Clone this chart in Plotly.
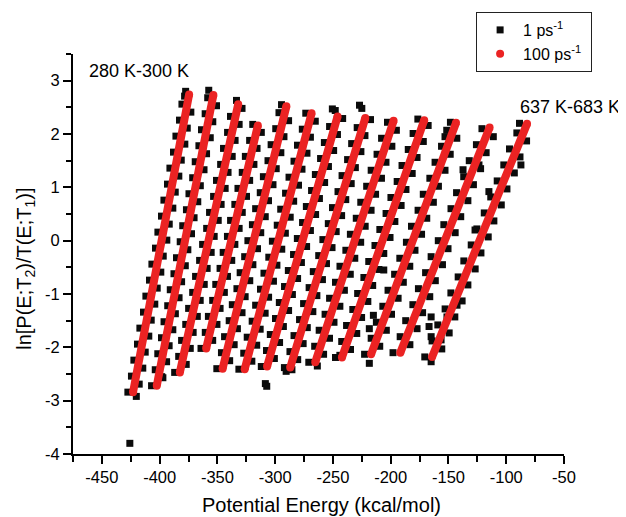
import plotly.graph_objects as go

# ---------------- data ----------------
# 1 ps^-1 series (black squares): potential energy (kcal/mol), one line per temperature pair
ps1_energy = [
    # 280-300 K
    -427.5, -417.7, -424.4, -414.6, -422.3, -412.5, -419.2, -409.4, -417.1, -407.3, -414.0, -404.2,
    -411.9, -402.1, -408.8, -399.0, -406.7, -396.9, -403.6, -393.8, -401.5, -391.7, -398.4, -388.6,
    -396.3, -386.5, -393.2, -383.4, -391.1, -381.3, -388.0, -378.2, -385.9, -376.1, -382.8, -373.0,
    -380.7, -378.4, -377.5, -420.2, -425.8,
    # pair 2
    -407.0, -397.2, -403.8, -394.0, -401.6, -391.8, -398.4, -388.6, -396.2, -386.4, -393.0, -383.2,
    -390.8, -381.0, -387.6, -377.8, -385.4, -375.6, -382.2, -372.4, -380.0, -370.2, -376.8, -367.0,
    -374.6, -364.8, -371.4, -361.6, -369.2, -359.4, -366.0, -356.2, -363.8, -354.0, -360.6, -350.8,
    -358.4, -357.5, -398.2,
    # pair 3
    -387.0, -377.0, -383.5, -373.5, -381.0, -371.0, -377.4, -367.4, -374.9, -364.9, -371.4, -361.4,
    -368.9, -358.9, -365.4, -355.4, -362.8, -352.8, -359.3, -349.3, -356.8, -346.8, -353.3, -343.3,
    -350.8, -340.8, -347.2, -337.2, -344.7, -334.7, -341.2, -331.2, -338.7, -328.7, -333.5,
    # pair 4
    -364.2, -354.1, -360.5, -350.4, -357.8, -347.7, -354.1, -344.0, -351.4, -341.3, -347.7, -337.6,
    -345.0, -334.9, -341.3, -331.2, -338.6, -328.5, -334.9, -324.8, -332.2, -322.1, -328.5, -318.4,
    -325.8, -315.7, -322.1, -312.0, -319.4,
    # pair 5
    -350.5, -339.4, -346.5, -335.5, -343.8, -332.7, -339.8, -328.7, -337.1, -326.0, -333.1, -322.0,
    -330.3, -319.3, -326.4, -315.3, -323.6, -312.5, -319.7, -308.6, -316.9, -305.8, -312.9, -301.9,
    -310.2, -299.1, -306.2, -295.1, -303.5, -292.4, -299.5, -288.4, -296.7, -294.5,
    # pair 6
    -331.4, -320.2, -327.2, -316.0, -324.2, -313.0, -319.9, -308.7, -316.9, -305.7, -312.7, -301.5,
    -309.7, -298.5, -305.5, -294.3, -302.4, -291.2, -298.2, -287.0, -295.2, -284.0, -291.0, -279.8,
    -288.0, -276.8, -283.7, -272.5, -280.7, -269.5, -276.5, -265.3, -273.5,
    # pair 7
    -312.0, -300.7, -307.5, -296.2, -304.2, -292.9, -299.7, -288.4, -296.4, -285.1, -291.9, -280.6,
    -288.6, -277.3, -284.1, -272.8, -280.8, -269.5, -276.3, -265.0, -273.0, -261.7, -268.5, -257.2,
    -265.2, -253.9, -260.7, -249.4, -257.4, -246.1, -252.9, -241.6, -250.5, -248.0, -308.5, -307.3,
    # pair 8
    -292.0, -280.5, -287.2, -275.8, -283.7, -272.2, -278.9, -267.4, -275.4, -263.9, -270.6, -259.1,
    -267.0, -255.6, -262.3, -250.8, -258.7, -247.2, -254.0, -242.5, -250.4, -238.9, -245.6, -234.2,
    -242.1, -230.6, -237.3, -225.8, -233.8, -222.3, -229.0, -217.5, -227.0, -225.0, -290.5, -285.5,
    # pair 9
    -270.9, -258.1, -265.8, -253.0, -261.9, -249.1, -256.8, -244.0, -252.9, -240.1, -247.8, -235.0,
    -243.9, -231.1, -238.8, -226.0, -234.9, -222.1, -229.8, -217.0, -225.9, -213.1, -220.8, -208.0,
    -216.9, -204.1, -211.8, -199.0, -207.9, -195.1, -202.8, -263.5,
    # pair 10
    -247.8, -234.8, -242.4, -229.4, -238.2, -225.2, -232.8, -219.8, -228.6, -215.6, -223.2, -210.2,
    -219.0, -206.0, -213.6, -200.6, -209.4, -196.4, -204.0, -191.0, -199.8, -186.8, -194.4, -181.4,
    -190.2, -177.2, -184.8, -171.8, -180.6, -167.6, -176.5, -244.0,
    # pair 11
    -222.6, -209.5, -216.9, -203.8, -212.4, -199.3, -206.8, -193.6, -202.3, -189.1, -196.6, -183.5,
    -192.1, -179.0, -186.4, -173.3, -182.0, -168.8, -176.3, -163.1, -171.8, -158.7, -166.1, -153.0,
    -161.6, -148.5, -156.0, -142.8, -151.5, -148.3, -218.5, -215.0, -218.5, -206.0, -153.0,
    # pair 12
    -198.0, -183.4, -191.8, -177.2, -187.0, -172.4, -180.8, -166.2, -176.0, -161.4, -169.8, -155.2,
    -165.0, -150.4, -158.8, -144.2, -154.0, -139.4, -147.8, -133.2, -143.0, -128.4, -136.8, -122.2,
    -132.0, -117.4, -125.8, -111.2, -121.0, -137.4, -123.6,
    # 637-683 K
    -170.5, -155.8, -164.2, -149.4, -159.2, -144.5, -152.9, -138.2, -147.9, -133.2, -141.6, -126.9,
    -136.7, -121.9, -130.3, -115.6, -125.4, -110.7, -119.0, -104.3, -113.4, -99.4, -107.8, -93.0,
    -102.1, -88.1, -97.2, -82.4, -90.8, -88.5, -165.0, -87.3, -115.0, -127.0,
    -165.0, -166.8, -165.0, -156.4, -151.3, -142.6,
]
ps1_lnratio = [
    # 280-300 K
    -2.84, -2.69, -2.54, -2.39, -2.24, -2.09, -1.94, -1.79, -1.64, -1.49, -1.34, -1.19,
    -1.04, -0.89, -0.74, -0.59, -0.44, -0.29, -0.14, 0.01, 0.16, 0.31, 0.46, 0.61,
    0.76, 0.91, 1.06, 1.21, 1.36, 1.51, 1.66, 1.81, 1.96, 2.11, 2.26, 2.41,
    2.56, 2.71, 2.80, -2.92, -3.80,
    # pair 2
    -2.72, -2.57, -2.42, -2.27, -2.12, -1.97, -1.82, -1.67, -1.52, -1.37, -1.22, -1.07,
    -0.92, -0.77, -0.62, -0.47, -0.32, -0.17, -0.02, 0.13, 0.28, 0.43, 0.58, 0.73,
    0.88, 1.03, 1.18, 1.33, 1.48, 1.63, 1.78, 1.93, 2.08, 2.23, 2.38, 2.53,
    2.68, 2.82, -2.55,
    # pair 3
    -2.47, -2.32, -2.17, -2.02, -1.87, -1.72, -1.57, -1.42, -1.27, -1.12, -0.97, -0.82,
    -0.67, -0.52, -0.37, -0.22, -0.07, 0.08, 0.23, 0.38, 0.53, 0.68, 0.83, 0.98,
    1.13, 1.28, 1.43, 1.58, 1.73, 1.88, 2.03, 2.18, 2.33, 2.48, 2.63,
    # pair 4
    -2.02, -1.87, -1.72, -1.57, -1.42, -1.27, -1.12, -0.97, -0.82, -0.67, -0.52, -0.37,
    -0.22, -0.07, 0.08, 0.23, 0.38, 0.53, 0.68, 0.83, 0.98, 1.13, 1.28, 1.43,
    1.58, 1.73, 1.88, 2.03, 2.18,
    # pair 5
    -2.40, -2.25, -2.10, -1.95, -1.80, -1.65, -1.50, -1.35, -1.20, -1.05, -0.90, -0.75,
    -0.60, -0.45, -0.30, -0.15, 0.00, 0.15, 0.30, 0.45, 0.60, 0.75, 0.90, 1.05,
    1.20, 1.35, 1.50, 1.65, 1.80, 1.95, 2.10, 2.25, 2.40, 2.55,
    # pair 6
    -2.41, -2.26, -2.11, -1.96, -1.81, -1.66, -1.51, -1.36, -1.21, -1.06, -0.91, -0.76,
    -0.61, -0.46, -0.31, -0.16, -0.01, 0.14, 0.29, 0.44, 0.59, 0.74, 0.89, 1.04,
    1.19, 1.34, 1.49, 1.64, 1.79, 1.94, 2.09, 2.24, 2.39,
    # pair 7
    -2.36, -2.21, -2.06, -1.91, -1.76, -1.61, -1.46, -1.31, -1.16, -1.01, -0.86, -0.71,
    -0.56, -0.41, -0.26, -0.11, 0.04, 0.19, 0.34, 0.49, 0.64, 0.79, 0.94, 1.09,
    1.24, 1.39, 1.54, 1.69, 1.84, 1.99, 2.14, 2.29, 2.47, 2.44, -2.68, -2.73,
    # pair 8
    -2.38, -2.23, -2.08, -1.93, -1.78, -1.63, -1.48, -1.33, -1.18, -1.03, -0.88, -0.73,
    -0.58, -0.43, -0.28, -0.13, 0.02, 0.17, 0.32, 0.47, 0.62, 0.77, 0.92, 1.07,
    1.22, 1.37, 1.52, 1.67, 1.82, 1.97, 2.12, 2.27, 2.54, 2.48, -2.45, -2.42,
    # pair 9
    -2.28, -2.13, -1.98, -1.83, -1.68, -1.53, -1.38, -1.23, -1.08, -0.93, -0.78, -0.63,
    -0.48, -0.33, -0.18, -0.03, 0.12, 0.27, 0.42, 0.57, 0.72, 0.87, 1.02, 1.17,
    1.32, 1.47, 1.62, 1.77, 1.92, 2.07, 2.22, -2.35,
    # pair 10
    -2.19, -2.04, -1.89, -1.74, -1.59, -1.44, -1.29, -1.14, -0.99, -0.84, -0.69, -0.54,
    -0.39, -0.24, -0.09, 0.06, 0.21, 0.36, 0.51, 0.66, 0.81, 0.96, 1.11, 1.26,
    1.41, 1.56, 1.71, 1.86, 2.01, 2.16, 2.28, -2.15,
    # pair 11
    -2.13, -1.98, -1.83, -1.68, -1.53, -1.38, -1.23, -1.08, -0.93, -0.78, -0.63, -0.48,
    -0.33, -0.18, -0.03, 0.12, 0.27, 0.42, 0.57, 0.72, 0.87, 1.02, 1.17, 1.32,
    1.47, 1.62, 1.77, 1.92, 2.07, 2.22, -2.30, -1.40, -1.65, -0.55, 1.95,
    # pair 12
    -2.10, -1.95, -1.80, -1.65, -1.50, -1.35, -1.20, -1.05, -0.90, -0.75, -0.60, -0.45,
    -0.30, -0.15, 0.00, 0.15, 0.30, 0.45, 0.60, 0.75, 0.90, 1.05, 1.20, 1.35,
    1.50, 1.65, 1.80, 1.95, 2.10, 1.33, 1.42,
    # 637-683 K
    -2.18, -2.03, -1.88, -1.73, -1.58, -1.43, -1.28, -1.13, -0.98, -0.83, -0.68, -0.53,
    -0.38, -0.23, -0.08, 0.07, 0.22, 0.37, 0.52, 0.67, 0.82, 0.97, 1.12, 1.27,
    1.42, 1.57, 1.72, 1.87, 2.02, 2.20, -2.27, 1.42, 0.92, 0.20,
    -1.43, -1.61, -1.80, -1.86, -1.43, -1.21,
]

# 100 ps^-1 series (red circles): each temperature pair forms a dense straight
# chain of circles, given here by its two ends
band_energy_low = [-423.0, -402.5, -382.5, -359.7, -345.5, -326.4, -307.0,
                   -287.0, -265.3, -242.2, -217.0, -191.7, -164.2]
band_ln_low = [-2.84, -2.72, -2.47, -2.02, -2.40, -2.41, -2.36,
               -2.38, -2.28, -2.19, -2.13, -2.10, -2.18]
band_energy_high = [-374.5, -353.5, -332.0, -315.0, -290.3, -268.5, -246.0,
                    -222.0, -197.5, -171.0, -143.5, -114.4, -82.0]
band_ln_high = [2.74, 2.73, 2.56, 2.16, 2.52, 2.39, 2.33,
                2.30, 2.25, 2.26, 2.21, 2.12, 2.19]

series_names = ["1 ps<sup>-1</sup>&nbsp;", "100 ps<sup>-1</sup>&nbsp;"]
x_tick_vals = [-450, -400, -350, -300, -250, -200, -150, -100, -50]
x_tick_text = ["-450", "-400", "-350", "-300", "-250", "-200", "-150", "-100", "-50"]
y_tick_vals = [-4, -3, -2, -1, 0, 1, 2, 3]
y_tick_text = ["-4", "-3", "-2", "-1", "0", "1", "2", "3"]
label_low_T = "280 K-300 K"
label_high_T = "637 K-683 K"
x_title = "Potential Energy (kcal/mol)"
y_title = "ln[P(E;T<sub>2</sub>)/T(E;T<sub>1</sub>)]"

# ---------------- figure ----------------
FONT = "Liberation Sans, Arial, Helvetica, sans-serif"
BLACK = "#0b0b0b"
RED = "#eb2323"

fig = go.Figure()

fig.add_trace(go.Scatter(
    x=ps1_energy, y=ps1_lnratio, mode="markers", name=series_names[0],
    marker=dict(symbol="square", size=7, color=BLACK, line=dict(width=0)),
))

seg_x, seg_y = [], []
for xl, yl, xh, yh in zip(band_energy_low, band_ln_low, band_energy_high, band_ln_high):
    seg_x += [xl, xh, None]
    seg_y += [yl, yh, None]
fig.add_trace(go.Scatter(
    x=seg_x, y=seg_y, mode="lines", showlegend=False, hoverinfo="skip",
    line=dict(color=RED, width=8),
))
fig.add_trace(go.Scatter(
    x=band_energy_low + band_energy_high, y=band_ln_low + band_ln_high,
    mode="markers", name=series_names[1],
    marker=dict(symbol="circle", size=8, color=RED, line=dict(width=0)),
))

axis_common = dict(
    showline=True, linecolor="black", linewidth=2, mirror=False,
    ticks="outside", ticklen=8, tickwidth=2, tickcolor="black",
    showgrid=False, zeroline=False,
    tickfont=dict(family=FONT, size=16.5, color="black"),
    tickmode="array",
)
fig.update_xaxes(
    range=[-475, -50], tickvals=x_tick_vals, ticktext=x_tick_text,
    ticklabelstandoff=-1,
    minor=dict(tickmode="linear", tick0=-475, dtick=25, ticks="outside",
               ticklen=6, tickwidth=2, tickcolor="black", showgrid=False),
    **axis_common,
)
fig.update_yaxes(
    range=[-4, 3.5], tickvals=y_tick_vals, ticktext=y_tick_text,
    minor=dict(tickmode="linear", tick0=-4, dtick=0.5, ticks="outside",
               ticklen=5, tickwidth=2, tickcolor="black", showgrid=False),
    **axis_common,
)

fig.add_annotation(x=-463, y=3.19, xref="x", yref="y", text=label_low_T,
                   showarrow=False, xanchor="left", yanchor="middle",
                   font=dict(family=FONT, size=18, color="black"))
fig.add_annotation(x=-89.5, y=2.5, xref="x", yref="y", text=label_high_T,
                   showarrow=False, xanchor="left", yanchor="middle",
                   font=dict(family=FONT, size=18, color="black"))
fig.add_annotation(x=0.506, y=-0.1275, xref="paper", yref="paper", text=x_title,
                   showarrow=False, xanchor="center", yanchor="middle",
                   font=dict(family=FONT, size=20, color="black"))
fig.add_annotation(x=-0.097, y=0.464, xref="paper", yref="paper", text=y_title,
                   showarrow=False, xanchor="center", yanchor="middle", textangle=-90,
                   font=dict(family=FONT, size=20, color="black"))

# the page body adds an 8 px offset, so the figure starts 8 px into the window
fig.update_layout(
    width=626, height=509, autosize=False,
    margin=dict(l=65, r=70, t=46, b=63, pad=0, autoexpand=False),
    paper_bgcolor="white", plot_bgcolor="white",
    font=dict(family=FONT, size=16, color="black"),
    legend=dict(x=0.821, y=1.105, xanchor="left", yanchor="top",
                bordercolor="#222222", borderwidth=1, bgcolor="white",
                font=dict(family=FONT, size=16, color="black"),
                itemwidth=36, tracegroupgap=0),
    showlegend=True,
)

fig.write_html("out.html")
